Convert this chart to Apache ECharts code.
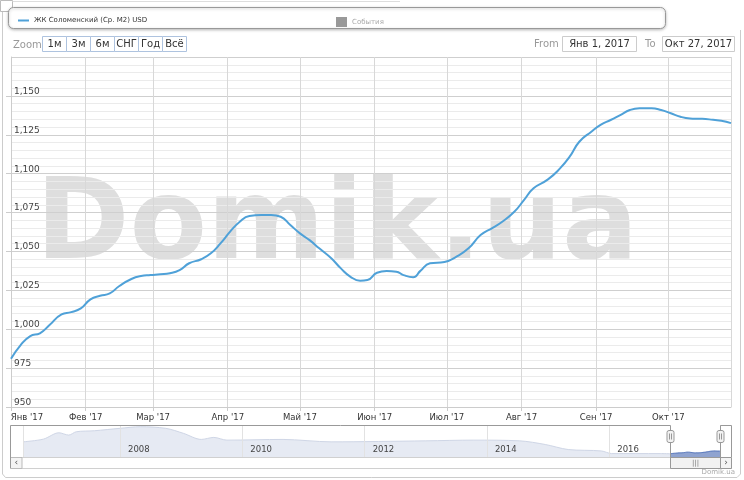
<!DOCTYPE html>
<html><head><meta charset="utf-8">
<script src="https://cdn.jsdelivr.net/npm/echarts@6/dist/echarts.min.js"></script>
<style>html,body{margin:0;padding:0;background:#fff}#c{width:744px;height:480px}</style>
</head><body><div id="c"></div>
<script>
const seriesName = 'ЖК Соломенский (Ср. М2) USD';
const eventsName = 'События';
const monthNames = ['Янв','Фев','Мар','Апр','Май','Июн','Июл','Авг','Сен','Окт','Ноя','Дек'];
const zoomButtons = ['1м','3м','6м','СНГ','Год','Всё'];

const dates = ['2017-01-01','2017-01-05','2017-01-09','2017-01-13','2017-01-17','2017-01-22','2017-01-26','2017-01-30',
 '2017-02-03','2017-02-07','2017-02-11','2017-02-15','2017-02-20','2017-02-24','2017-02-28',
 '2017-03-04','2017-03-08','2017-03-12','2017-03-16','2017-03-21','2017-03-25','2017-03-29',
 '2017-04-02','2017-04-06','2017-04-10','2017-04-15','2017-04-19','2017-04-23','2017-04-27',
 '2017-05-01','2017-05-05','2017-05-09','2017-05-14','2017-05-18','2017-05-22','2017-05-26','2017-05-29',
 '2017-06-02','2017-06-06','2017-06-10','2017-06-13','2017-06-17','2017-06-20','2017-06-24','2017-06-30',
 '2017-07-05','2017-07-10','2017-07-15','2017-07-20','2017-07-24','2017-07-29',
 '2017-08-02','2017-08-06','2017-08-12','2017-08-17','2017-08-21','2017-08-25','2017-08-30',
 '2017-09-03','2017-09-07','2017-09-11','2017-09-15','2017-09-19','2017-09-24','2017-09-28',
 '2017-10-02','2017-10-06','2017-10-10','2017-10-14','2017-10-18','2017-10-23','2017-10-27'];
const values = [981,989.8,995.6,997.4,1002.7,1009.6,1011,1013.4,
 1019.2,1021.5,1023,1027.8,1032.3,1034.2,1034.8,
 1035.3,1036,1038,1042.4,1045,1048.8,1055.2,
 1062.7,1069.1,1072.8,1073.4,1073.4,1072.3,1067,
 1061.6,1057.3,1052,1045.6,1039.1,1033.7,1031.2,1031.6,
 1036.3,1037.4,1037,1034.8,1033.4,1037.5,1042.4,1043.2,
 1046.6,1052,1060.5,1065.2,1069.1,1075.5,
 1083,1090.6,1096.3,1103.4,1110.9,1120.5,1127,
 1131.5,1134.5,1137.7,1140.9,1142,1142,1140.9,
 1138.8,1136.6,1135.5,1135.3,1134.9,1134,1132.5];

const yMin = 950, yMax = 1175, yStep = 25;

const navDates = ['2006-06-01','2006-10-01','2007-01-01','2007-03-01','2007-04-15','2007-08-01','2008-01-01','2008-05-01','2008-10-01','2009-01-15','2009-05-01','2009-07-15','2009-10-01','2010-09-01','2011-06-15','2013-01-01','2013-10-15','2014-07-15','2014-12-15','2015-05-01','2015-11-15','2016-01-15','2016-11-01','2017-01-01'];
const navValues = [1652,1805,2163,2033,2220,2277,2413,2504,2413,2129,1788,1902,1749,1788,1652,1709,1749,1709,1504,1220,1141,993,993,981];

function parseD(s){const p=s.split('-').map(Number);return new Date(p[0],p[1]-1,p[2]);}
function fmtRange(s){const d=parseD(s);return monthNames[d.getMonth()]+' '+d.getDate()+', '+d.getFullYear();}
function toYear(s){const d=parseD(s);const y=d.getFullYear();const a=new Date(y,0,1).getTime(),b=new Date(y+1,0,1).getTime();return y+(d.getTime()-a)/(b-a);}

const mainData = dates.map((d,i)=>[parseD(d).getTime(), values[i]]);
const navData = navDates.map((d,i)=>[toYear(d), navValues[i]]);
const navSelData = dates.map((d,i)=>[toYear(d), values[i]]);
const xMin = parseD(dates[0]).getTime();

const FONT = 'DejaVu Sans';
const chart = echarts.init(document.getElementById('c'), null, {renderer:'canvas'});

const graphics = [];
graphics.push({type:'rect', z:1, shape:{x:0.5,y:0.5,width:12,height:11,r:[0,0,3,0]}, style:{fill:'#fff',stroke:'#bbb',lineWidth:1}});
graphics.push({type:'polyline', z:1, shape:{points:[[12.5,1.5],[400,1.5]]}, style:{stroke:'#ddd',lineWidth:1,fill:null}});
graphics.push({type:'polyline', z:1, shape:{points:[[2.5,12],[2.5,474],[5.5,477.5],[737,477.5],[740.5,474],[740.5,30]]}, style:{stroke:'#ccc',lineWidth:1,fill:null}});
graphics.push({type:'rect', z:2, shape:{x:8.5,y:7.5,width:657,height:21,r:5}, style:{fill:'#fff',stroke:'#999',lineWidth:1,shadowBlur:3,shadowOffsetY:1,shadowColor:'rgba(0,0,0,0.25)'}});
graphics.push({type:'text', z:2, style:{text:'Zoom', x:13, y:45, fill:'#999', font:'10px "'+FONT+'"', verticalAlign:'middle'}});
zoomButtons.forEach((b,i)=>{
  const x = 42.5 + i*24;
  graphics.push({type:'rect', z:2, shape:{x:x,y:36.5,width:24,height:15}, style:{fill:'#fff',stroke:'#aec3df',lineWidth:1}});
  graphics.push({type:'text', z:3, style:{text:b, x:x+12, y:44.5, fill:'#333', font:'10px "'+FONT+'"', align:'center', verticalAlign:'middle'}});
});
graphics.push({type:'text', z:2, style:{text:'From', x:534, y:44.5, fill:'#999', font:'10px "'+FONT+'"', verticalAlign:'middle'}});
graphics.push({type:'rect', z:2, shape:{x:562.5,y:36.5,width:74,height:15}, style:{fill:'#fff',stroke:'#ccc',lineWidth:1}});
graphics.push({type:'text', z:3, style:{text:fmtRange(dates[0]), x:599.5, y:44.5, fill:'#333', font:'10px "'+FONT+'"', align:'center', verticalAlign:'middle'}});
graphics.push({type:'text', z:2, style:{text:'To', x:645, y:44.5, fill:'#999', font:'10px "'+FONT+'"', verticalAlign:'middle'}});
graphics.push({type:'rect', z:2, shape:{x:662.5,y:36.5,width:72,height:15}, style:{fill:'#fff',stroke:'#ccc',lineWidth:1}});
graphics.push({type:'text', z:3, style:{text:fmtRange(dates[dates.length-1]), x:698.5, y:44.5, fill:'#333', font:'10px "'+FONT+'"', align:'center', verticalAlign:'middle'}});
graphics.push({type:'text', z:-1, silent:true, style:{text:'Domik.ua', x:337, y:229, fill:'#dedede', font:'bold 113px "'+FONT+'"', align:'center', verticalAlign:'middle'}});
graphics.push({type:'rect', z:5, shape:{x:10.5,y:457.5,width:721,height:11}, style:{fill:'#fff',stroke:'#d0d0d0',lineWidth:1}});
graphics.push({type:'rect', z:5, shape:{x:10.5,y:457.5,width:11.5,height:11}, style:{fill:'#f4f4f4',stroke:'#bbb',lineWidth:1}});
graphics.push({type:'text', z:6, style:{text:'‹', x:16.3, y:462.5, fill:'#555', font:'9px "'+FONT+'"', align:'center', verticalAlign:'middle'}});
graphics.push({type:'rect', z:5, shape:{x:670.5,y:457.5,width:50,height:11}, style:{fill:'#f2f2f2',stroke:'#999',lineWidth:1}});
graphics.push({type:'text', z:6, style:{text:'|||', x:695.5, y:463, fill:'#777', font:'7px "'+FONT+'"', align:'center', verticalAlign:'middle'}});
graphics.push({type:'rect', z:5, shape:{x:720.5,y:457.5,width:11,height:11}, style:{fill:'#f4f4f4',stroke:'#999',lineWidth:1}});
graphics.push({type:'text', z:6, style:{text:'›', x:726, y:462.5, fill:'#555', font:'9px "'+FONT+'"', align:'center', verticalAlign:'middle'}});
graphics.push({type:'polyline', z:6, shape:{points:[[10.5,468],[10.5,425.5],[670.5,425.5],[670.5,468]]}, style:{stroke:'#999',lineWidth:1,fill:null}});
graphics.push({type:'polyline', z:6, shape:{points:[[720.5,468],[720.5,425.5],[731.5,425.5],[731.5,457]]}, style:{stroke:'#999',lineWidth:1,fill:null}});
[670.5,720.5].forEach(x=>{
  graphics.push({type:'rect', z:7, shape:{x:x-3.5,y:430.5,width:7,height:12,r:2}, style:{fill:'#f2f2f2',stroke:'#999',lineWidth:1}});
  graphics.push({type:'polyline', z:8, shape:{points:[[x-1,433.5],[x-1,439.5]]}, style:{stroke:'#999',lineWidth:1,fill:null}});
  graphics.push({type:'polyline', z:8, shape:{points:[[x+1,433.5],[x+1,439.5]]}, style:{stroke:'#999',lineWidth:1,fill:null}});
});
graphics.push({type:'text', z:2, style:{text:'Domik.ua', x:735, y:472, fill:'#aaa', font:'7px "'+FONT+'"', align:'right', verticalAlign:'middle'}});

const option = {
  animation:false,
  backgroundColor:'#fff',
  textStyle:{fontFamily:FONT},
  graphic:{elements:graphics},
  legend:[
    {data:[{name:seriesName, icon:'rect'}], left:13, top:12, itemWidth:11, itemHeight:2, itemGap:5,
     textStyle:{fontSize:7, color:'#333', fontFamily:FONT}, selectedMode:false, z:10},
    {data:[{name:eventsName, icon:'rect'}], left:331, top:12, itemWidth:11, itemHeight:10,
     textStyle:{fontSize:7, color:'#aaa', fontFamily:FONT}, selectedMode:false, z:10}
  ],
  grid:[
    {left:11, right:13, top:57, bottom:73, containLabel:false, outerBoundsMode:'none'},
    {left:23, right:23.5, top:425, bottom:23, containLabel:false, outerBoundsMode:'none'}
  ],
  xAxis:[
    {type:'time', gridIndex:0, min:xMin, max:parseD(dates[dates.length-1]).getTime(),
     splitNumber:10,
     axisLine:{show:true, lineStyle:{color:'#ccc'}},
     axisTick:{show:true, length:4, lineStyle:{color:'#ccc'}},
     axisLabel:{color:'#333', fontSize:8.5, fontFamily:FONT, margin:6, showMaxLabel:false, hideOverlap:false,
       formatter:function(v){const d=new Date(v);const t=monthNames[d.getMonth()]+" '"+String(d.getFullYear()).slice(2);
         return v===xMin ? '{first|'+t+'}' : t;},
       rich:{first:{padding:[0,0,0,32], fontSize:8.5, color:'#333', fontFamily:FONT}}},
     splitLine:{show:true, lineStyle:{color:'#d8d8d8'}}},
    {type:'value', gridIndex:1, z:4, min:toYear(navDates[0]), max:toYear(dates[dates.length-1]), splitNumber:5,
     axisLine:{show:false}, axisTick:{show:false},
     axisLabel:{inside:true, color:'#444', fontSize:8.5, fontFamily:FONT, margin:3, align:'left', padding:[0,0,0,8],
       showMinLabel:false, showMaxLabel:false, hideOverlap:false,
       formatter:function(v){return Number.isInteger(v) ? String(v) : '';}},
     splitLine:{show:true, lineStyle:{color:'#e2e2e2'}}}
  ],
  yAxis:[
    {type:'value', gridIndex:0, min:yMin, max:yMax, interval:yStep,
     axisLine:{show:true, lineStyle:{color:'#ccc'}},
     axisTick:{show:true, length:5, lineStyle:{color:'#ccc'}},
     axisLabel:{inside:true, margin:3, verticalAlign:'bottom', color:'#444', fontSize:9, fontFamily:FONT, showMaxLabel:false,
       formatter:function(v){return v.toLocaleString('en-US');}},
     splitLine:{show:true, lineStyle:{color:'#cfcfcf'}},
     minorTick:{show:false, splitNumber:5},
     minorSplitLine:{show:true, lineStyle:{color:'#ebebeb'}}},
    {type:'value', gridIndex:1, min:800, max:2600, show:false, splitLine:{show:false}}
  ],
  series:[
    {name:seriesName, type:'line', xAxisIndex:0, yAxisIndex:0, data:mainData, smooth:0.5, symbol:'none',
     lineStyle:{color:'#4fa1d8', width:2}, itemStyle:{color:'#4fa1d8'}, z:5},
    {name:eventsName, type:'scatter', xAxisIndex:0, yAxisIndex:0, data:[], itemStyle:{color:'#7f7f7f'}},
    {name:'nav', type:'line', xAxisIndex:1, yAxisIndex:1, data:navData, smooth:0.3, symbol:'none', z:1,
     lineStyle:{color:'#cfd6e6', width:1}, areaStyle:{color:'#e6eaf3', opacity:1}, silent:true},
    {name:'navSel', type:'line', xAxisIndex:1, yAxisIndex:1, data:navSelData, smooth:0.3, symbol:'none', z:1,
     lineStyle:{color:'#4d6fb8', width:1}, areaStyle:{color:'#8fa3d0', opacity:1}, silent:true}
  ]
};
chart.setOption(option);
</script>
</body></html>
